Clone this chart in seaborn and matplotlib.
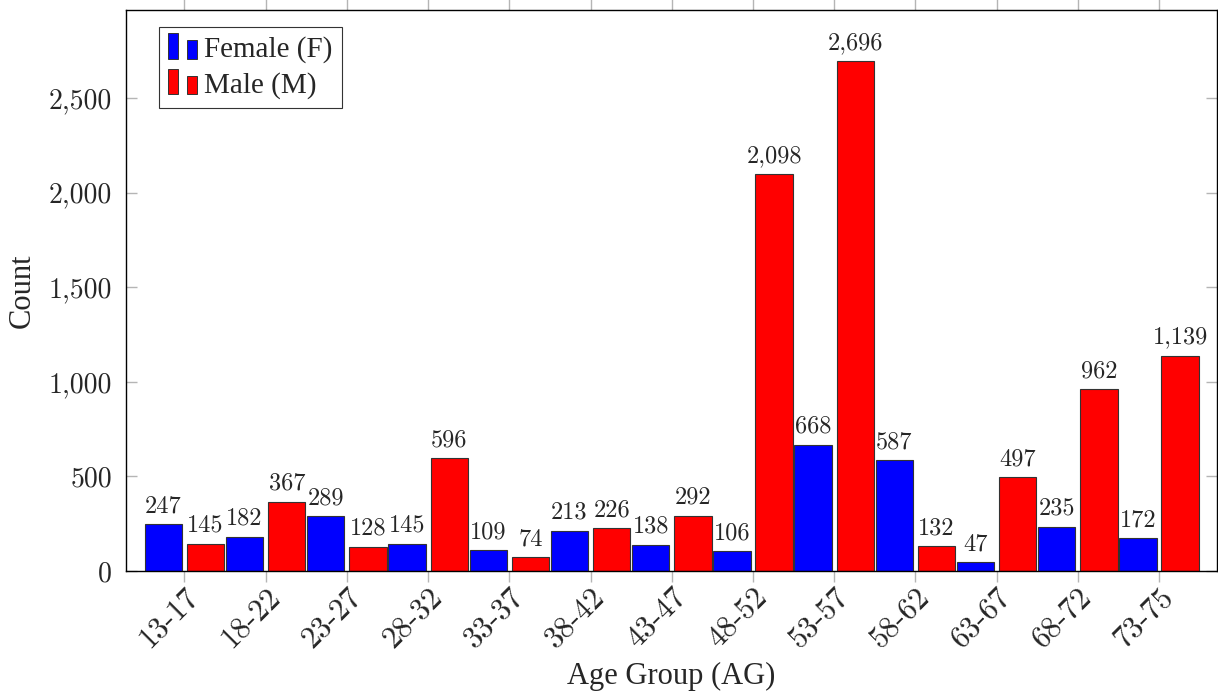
import matplotlib
matplotlib.use("Agg")
import matplotlib.pyplot as plt
from matplotlib.patches import Rectangle, Patch
from matplotlib.ticker import FuncFormatter
import numpy as np
import pandas as pd
import seaborn as sns

# data
age_groups = ["13-17", "18-22", "23-27", "28-32", "33-37", "38-42", "43-47",
              "48-52", "53-57", "58-62", "63-67", "68-72", "73-75"]
female = [247, 182, 289, 145, 109, 213, 138, 106, 668, 587, 47, 235, 172]
male = [145, 367, 128, 596, 74, 226, 292, 2098, 2696, 132, 497, 962, 1139]
sex_labels = ["Female (F)", "Male (M)"]

df = pd.DataFrame({
    "group": age_groups * 2,
    "count": female + male,
    "sex": [sex_labels[0]] * len(age_groups) + [sex_labels[1]] * len(age_groups),
})


class TwoBarHandler:
    # pgfplots style ybar legend: two little bars
    def legend_artist(self, legend, orig_handle, fontsize, handlebox):
        x0, y0 = handlebox.xdescent, handlebox.ydescent
        w, h = handlebox.width, handlebox.height
        fc = orig_handle.get_facecolor()
        ec = orig_handle.get_edgecolor()
        bw = w * 0.3
        r1 = Rectangle((x0, y0 - h * 0.1), bw, h * 1.25, fc=fc, ec=ec, lw=0.7,
                       transform=handlebox.get_transform())
        r2 = Rectangle((x0 + w * 0.6, y0 - h * 0.1), bw, h * 0.9, fc=fc, ec=ec, lw=0.7,
                       transform=handlebox.get_transform())
        handlebox.add_artist(r1)
        handlebox.add_artist(r2)
        return r1


sns.set_style("white")
plt.rcParams["font.family"] = ["Liberation Serif", "DejaVu Serif"]

fig = plt.figure(figsize=(12.18, 6.96), dpi=100)
ax = fig.add_axes([126 / 1218, 1 - 571 / 696, 1090.7 / 1218, 561 / 696])

palette = {sex_labels[0]: "#0000ff", sex_labels[1]: "#ff0000"}
sns.barplot(data=df, x="group", y="count", hue="sex", palette=palette,
            saturation=1, width=1.04, gap=0.115, edgecolor="#333333",
            linewidth=0.8, ax=ax)

for cont in ax.containers:
    ax.bar_label(cont, fmt="{:,.0f}", padding=5, fontsize=17.5, family="cmr10")

ax.set_xlim(-0.72, 12.71)
ax.set_ylim(0, 2696 * 1.1)
ax.set_yticks([0, 500, 1000, 1500, 2000, 2500])
ax.yaxis.set_major_formatter(FuncFormatter(lambda v, _: f"{v:,.0f}"))

ax.tick_params(axis="x", direction="out", top=True, bottom=True, length=8,
               width=1, color="#b5b5b5", pad=1, labelsize=22)
ax.tick_params(axis="y", direction="in", left=True, right=True, length=8,
               width=1, color="#b5b5b5", pad=10, labelsize=20)
for lab in ax.get_xticklabels() + ax.get_yticklabels():
    lab.set_family("cmr10")
plt.setp(ax.get_xticklabels(), rotation=45, ha="right", rotation_mode="anchor")

for sp in ax.spines.values():
    sp.set_color("black")
    sp.set_linewidth(1)

ax.set_xlabel("Age Group (AG)", fontsize=22)
ax.set_ylabel("Count", fontsize=22)
ax.xaxis.set_label_coords(0.5, -0.162)
ax.yaxis.set_label_coords(-0.0816, 0.5)

handles = [Patch(fc=palette[s], ec="#333333") for s in sex_labels]
leg = ax.legend(handles, sex_labels, loc="upper left",
                bbox_to_anchor=(0.0305, 0.969), fontsize=21,
                handler_map={Patch: TwoBarHandler()}, fancybox=False,
                framealpha=1, edgecolor="#333333", borderpad=0.3,
                labelspacing=0.3, handlelength=1.1, handletextpad=0.15,
                borderaxespad=0)
leg.get_frame().set_linewidth(0.8)

fig.savefig("out.png", dpi=100)
plt.close(fig)
